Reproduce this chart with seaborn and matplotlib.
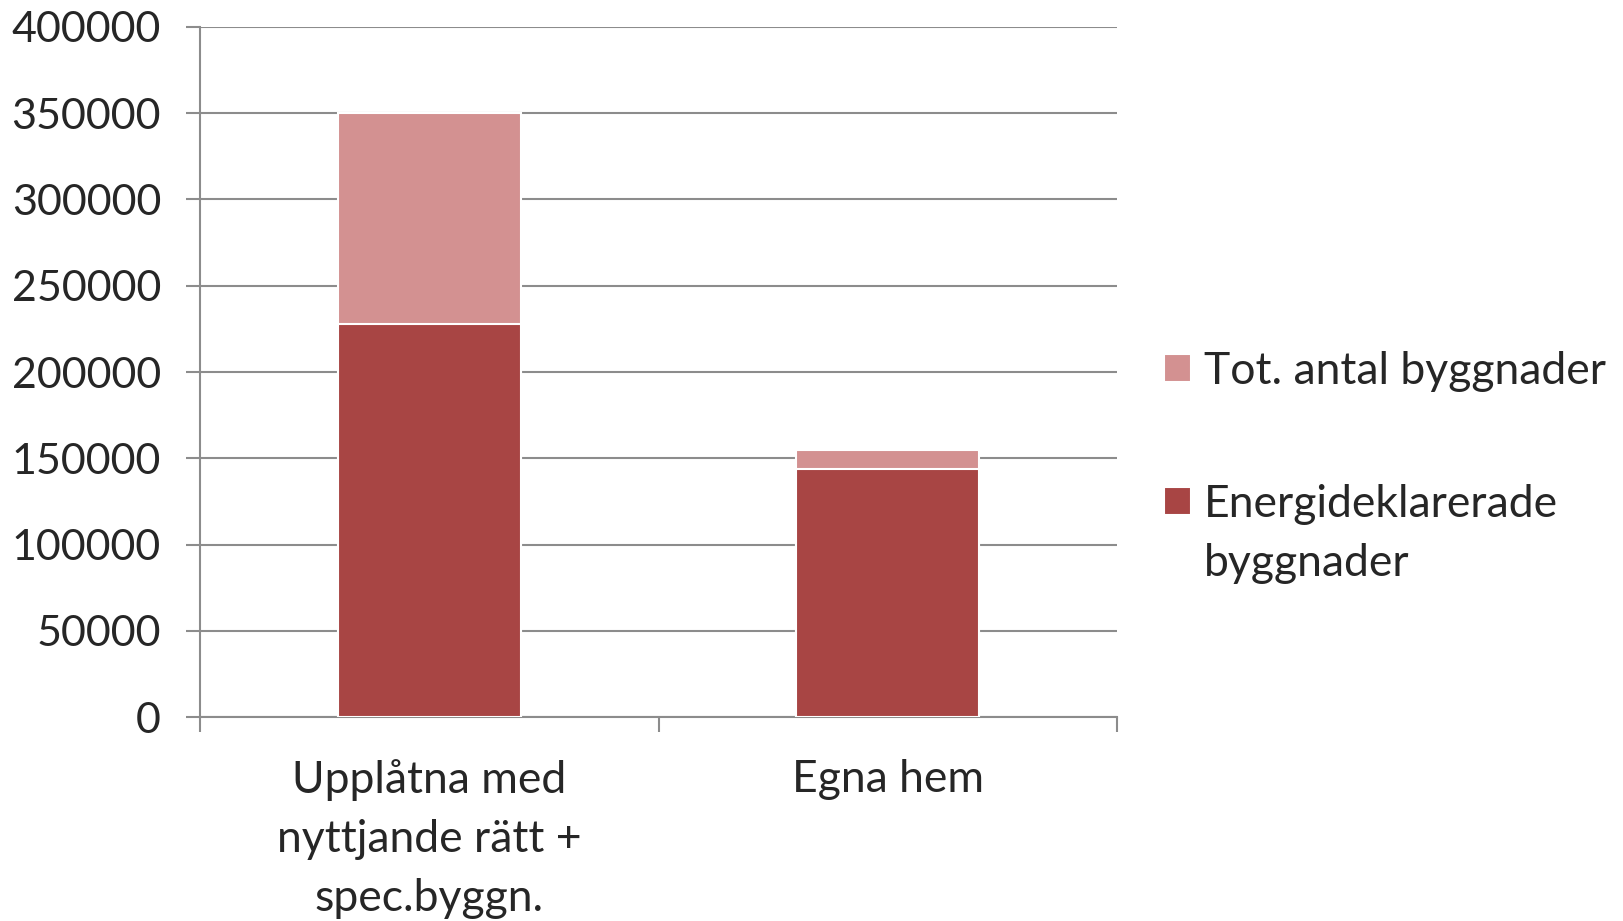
import pandas as pd
import matplotlib.pyplot as plt
import seaborn as sns

kategorier = ['Upplåtna med\nnyttjande rätt +\nspec.byggn.', 'Egna hem']
tot_antal = [350000, 154500]
energideklarerade = [228000, 144000]
y_ticks = [0, 50000, 100000, 150000, 200000, 250000, 300000, 350000, 400000]

FARG_LJUS = '#D39191'
FARG_MORK = '#A84544'
GRA = '#8C8C8C'

df = pd.DataFrame({'Kategori': kategorier,
                   'Tot': tot_antal,
                   'Energi': energideklarerade})

sns.set_theme(style="white")
plt.rcParams['font.family'] = ['Lato', 'DejaVu Sans']

fig = plt.figure(figsize=(16.23, 9.21), dpi=100)
ax = fig.add_axes([200 / 1623, 1 - 717 / 921, (1117 - 200) / 1623, (717 - 27) / 921])

sns.barplot(data=df, x='Kategori', y='Tot', color=FARG_LJUS, width=0.4, saturation=1,
            edgecolor='white', linewidth=1.5, label='Tot. antal byggnader', ax=ax, zorder=3)
sns.barplot(data=df, x='Kategori', y='Energi', color=FARG_MORK, width=0.4, saturation=1,
            edgecolor='white', linewidth=1.5, label='Energideklarerade', ax=ax, zorder=3)

ax.set_xlim(-0.5, 1.5)
ax.set_ylim(0, 400000)
ax.set_yticks(y_ticks)
ax.set_yticklabels([str(v) for v in y_ticks], fontsize=31)
ax.set_xlabel('')
ax.set_ylabel('')

# kategorietiketter på mindre ticks, avgränsare på stora
ax.set_xticks([-0.5, 0.5, 1.5])
ax.set_xticklabels(['', '', ''])
ax.set_xticks([0, 1], minor=True)
ax.set_xticklabels(kategorier, minor=True, fontsize=32, linespacing=1.55)
ax.tick_params(axis='x', which='minor', length=0, pad=30)
ax.tick_params(axis='x', which='major', length=11, width=1.5, color=GRA, direction='out', bottom=True)
ax.tick_params(axis='y', length=10, width=1.5, color=GRA, direction='out', left=True, pad=18)

ax.yaxis.grid(True, color=GRA, linewidth=1.5, zorder=0)
ax.set_axisbelow(True)
for s in ['top', 'right']:
    ax.spines[s].set_visible(False)
for s in ['left', 'bottom']:
    ax.spines[s].set_color(GRA)
    ax.spines[s].set_linewidth(1.5)

leg = ax.legend(loc='center left', bbox_to_anchor=(1.008, 0.405), frameon=False, fontsize=32,
                handlelength=0.6, handleheight=0.6, handletextpad=0.3, labelspacing=2.07)

# andra raden i legendetiketten
fig.canvas.draw()
bb = leg.get_texts()[1].get_window_extent()
fig.text(bb.x0 / 1623, (bb.y0 - 59) / 921, 'byggnader', fontsize=32, va='bottom', ha='left')

fig.savefig('out.png', dpi=100)
